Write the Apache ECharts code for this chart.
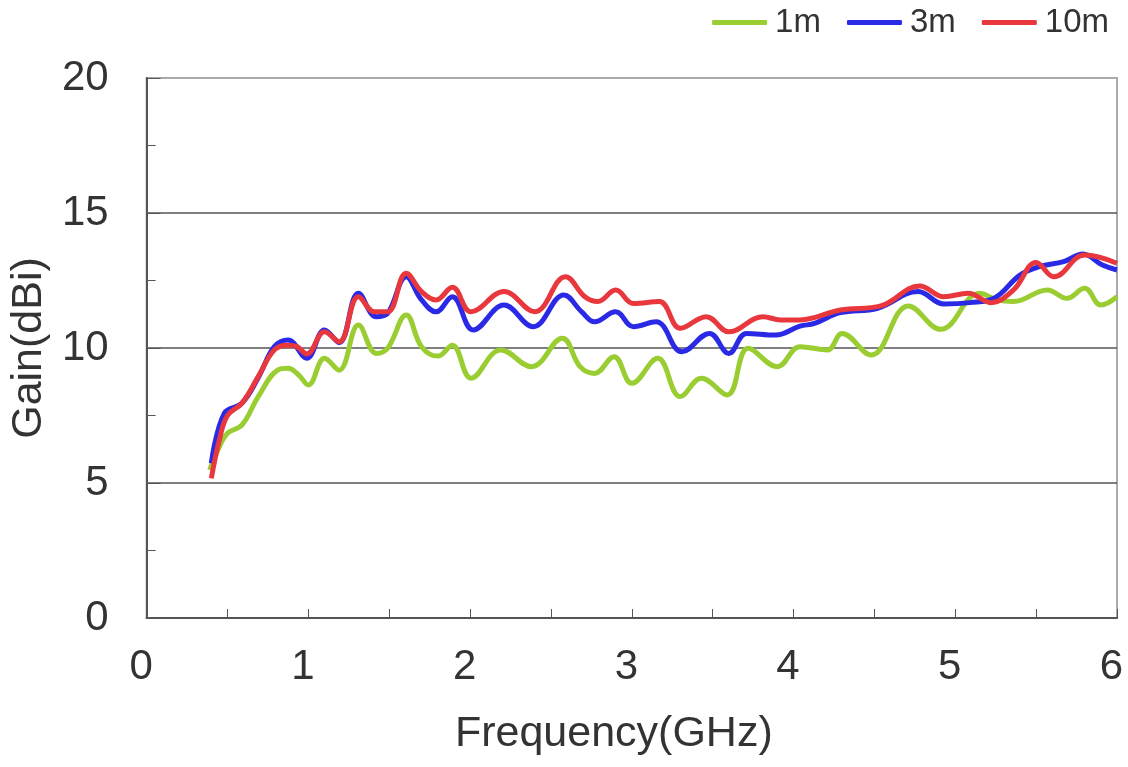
<!DOCTYPE html>
<html><head><meta charset="utf-8">
<script src="https://cdn.jsdelivr.net/npm/echarts@6/dist/echarts.min.js"></script>
<style>html,body{margin:0;padding:0;background:#fff}#c{width:1128px;height:767px}</style>
</head><body><div id="c"></div>
<script>
const seriesNames = ['1m', '3m', '10m'];
const gain1m = [[0.39,5.48],[0.44,6.22],[0.50,6.84],[0.59,7.15],[0.69,8.2],[0.81,9.18],[0.875,9.25],[0.94,9.0],[1.0,8.63],[1.10,9.62],[1.19,9.18],[1.31,10.85],[1.42,9.8],[1.49,9.99],[1.605,11.22],[1.70,10.05],[1.80,9.7],[1.89,10.1],[2.006,8.88],[2.19,9.93],[2.38,9.31],[2.57,10.36],[2.68,9.31],[2.77,9.06],[2.89,9.68],[3.00,8.69],[3.16,9.62],[3.30,8.2],[3.43,8.88],[3.59,8.26],[3.72,9.99],[3.90,9.31],[4.04,10.05],[4.21,9.93],[4.30,10.54],[4.48,9.74],[4.71,11.56],[4.91,10.69],[5.15,12.03],[5.26,11.78],[5.36,11.72],[5.57,12.15],[5.69,11.84],[5.80,12.21],[5.90,11.59],[6.0,11.9]];
const gain3m = [[0.40,5.73],[0.48,7.58],[0.59,7.96],[0.69,8.9],[0.79,10.05],[0.875,10.3],[0.99,9.62],[1.10,10.67],[1.19,10.2],[1.31,12.03],[1.42,11.16],[1.49,11.28],[1.605,12.64],[1.70,11.78],[1.79,11.34],[1.89,11.9],[2.02,10.67],[2.21,11.59],[2.39,10.79],[2.58,11.96],[2.69,11.34],[2.77,10.97],[2.90,11.34],[3.01,10.79],[3.15,10.97],[3.31,9.86],[3.48,10.54],[3.60,9.8],[3.71,10.54],[3.89,10.48],[4.04,10.81],[4.13,10.91],[4.29,11.31],[4.52,11.47],[4.77,12.09],[4.93,11.63],[5.09,11.68],[5.24,11.84],[5.40,12.7],[5.52,13.01],[5.67,13.2],[5.79,13.48],[5.91,13.07],[6.0,12.89]];
const gain10m = [[0.40,5.17],[0.45,6.6],[0.50,7.5],[0.59,7.96],[0.69,8.94],[0.79,9.93],[0.875,10.1],[0.93,10.05],[0.99,9.78],[1.10,10.6],[1.19,10.23],[1.31,11.9],[1.41,11.34],[1.49,11.34],[1.605,12.77],[1.70,12.09],[1.79,11.78],[1.89,12.25],[2.006,11.34],[2.21,12.09],[2.40,11.34],[2.59,12.64],[2.71,11.9],[2.79,11.72],[2.90,12.15],[3.01,11.65],[3.17,11.72],[3.30,10.73],[3.46,11.16],[3.60,10.6],[3.81,11.16],[3.92,11.04],[4.04,11.04],[4.29,11.41],[4.54,11.56],[4.78,12.3],[4.93,11.9],[5.08,12.03],[5.22,11.68],[5.36,12.15],[5.50,13.17],[5.61,12.64],[5.80,13.44],[6.0,13.14]];
const colors = ['#9acd32', '#2a2ae6', '#e8383d'];
const allData = [gain1m, gain3m, gain10m];

const chart = echarts.init(document.getElementById('c'));
const font = 'Liberation Sans, Arial, sans-serif';
chart.setOption({
  animation: false,
  textStyle: { fontFamily: font },
  legend: {
    top: 1, right: 14, itemWidth: 55, itemHeight: 5, itemGap: 26,
    icon: 'roundRect',
    textStyle: { fontSize: 33, color: '#333', fontFamily: font, padding: [0, 0, 0, 3] },
    data: seriesNames.map((n, i) => ({ name: n, itemStyle: { color: colors[i] } }))
  },
  grid: { left: 145, right: 11, top: 78, bottom: 149, show: true, borderColor: '#aaa', borderWidth: 2 },
  xAxis: {
    type: 'value', min: 0, max: 6, interval: 1,
    name: 'Frequency(GHz)', nameLocation: 'middle', nameGap: 95,
    nameTextStyle: { fontSize: 43, color: '#333', padding: [0, 36, 0, 0] },
    axisLine: { show: true, onZero: false, lineStyle: { color: '#555', width: 2 } },
    axisTick: { show: true, inside: true, length: 9, lineStyle: { color: '#555' } },
    minorTick: { show: true, splitNumber: 2, length: 9, lineStyle: { color: '#555' } },
    axisLabel: { fontSize: 42, color: '#333', margin: 28, padding: [0, 11, 0, 0] },
    splitLine: { show: false }
  },
  yAxis: {
    type: 'value', min: 0, max: 20, interval: 5,
    name: 'Gain(dBi)', nameLocation: 'middle', nameGap: 88,
    nameTextStyle: { fontSize: 43, color: '#333' },
    axisLine: { show: true, lineStyle: { color: '#555', width: 2 } },
    axisTick: { show: true, inside: true, length: 14, lineStyle: { color: '#555' } },
    minorTick: { show: true, splitNumber: 2, length: 9, lineStyle: { color: '#555' } },
    axisLabel: { fontSize: 42, color: '#333', margin: 38 },
    splitLine: { show: true, showMinLine: false, showMaxLine: false, lineStyle: { color: '#555', width: 1.5 } }
  },
  series: seriesNames.map((n, i) => ({
    name: n, type: 'line', data: allData[i], smooth: 0.4, showSymbol: false,
    lineStyle: { color: colors[i], width: 5 }, itemStyle: { color: colors[i] }
  }))
});
</script></body></html>
